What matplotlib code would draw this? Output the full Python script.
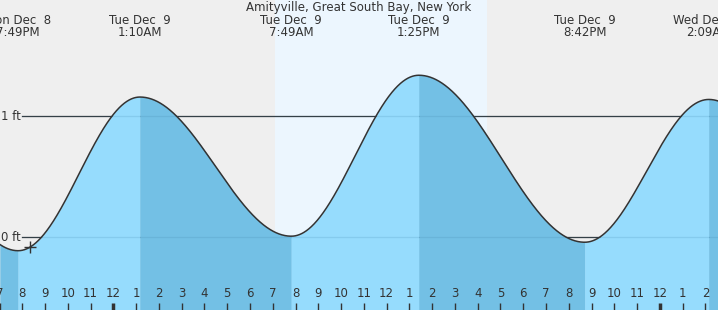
import numpy as np
import matplotlib
matplotlib.use('Agg')
import matplotlib.pyplot as plt

# tide events: hours from Dec 8 00:00, height in ft
event_hours = [19 + 49/60, 25 + 10/60, 31 + 49/60, 37 + 25/60, 44 + 42/60, 50 + 9/60]
event_heights = [-0.11, 1.16, 0.01, 1.34, -0.04, 1.14]
event_days = ['Mon Dec  8', 'Tue Dec  9', 'Tue Dec  9', 'Tue Dec  9', 'Tue Dec  9', 'Wed Dec 10']
event_times = ['7:49PM', '1:10AM', '7:49AM', '1:25PM', '8:42PM', '2:09AM']

sunrise = 31 + 5/60
sunset = 40 + 24/60
now_hour = 20.34

title = 'Amityville, Great South Bay, New York'
hour_ticks = list(range(19, 51))
ft_levels = [0, 1]

x0, x1 = 19.021, 19.021 + 718 / 22.77
y0, y1 = -0.6, -0.6 + 310 / 121.0

BG = '#efefef'
DAY = '#ecf6fe'
LIGHT = '#96dcfd'
DARK = '#73c0e5'
TXT = '#333333'
FS = 8.5


def tide_curve(t):
    # cosine shape between successive extremes
    h = np.zeros_like(t)
    ext_t = [event_hours[0] - 6.2] + event_hours + [event_hours[-1] + 6.2]
    ext_h = [event_heights[1]] + event_heights + [event_heights[-2]]
    for i in range(len(ext_t) - 1):
        a, b = ext_t[i], ext_t[i + 1]
        m = (t >= a) & (t <= b)
        f = (1 - np.cos(np.pi * (t[m] - a) / (b - a))) / 2
        h[m] = ext_h[i] + (ext_h[i + 1] - ext_h[i]) * f
    return h


fig = plt.figure(figsize=(7.18, 3.10), dpi=100)
fig.patch.set_facecolor(BG)
ax = fig.add_axes([0, 0, 1, 1])
ax.set_xlim(x0, x1)
ax.set_ylim(y0, y1)
ax.axis('off')

ax.axvspan(sunrise, sunset, color=DAY, lw=0, zorder=0)

# level lines
for lv in ft_levels:
    ax.plot([20, x1], [lv, lv], color=TXT, lw=0.9, zorder=1)
    ax.text(20 - 0.05, lv, '%d ft' % lv, ha='right', va='center', fontsize=FS, color=TXT, zorder=5)

# fill: light when rising, dark when falling
is_high = [v > 0.5 for v in event_heights]
bounds = [x0] + event_hours + [x1]
for i in range(len(bounds) - 1):
    a, b = bounds[i], bounds[i + 1]
    ts = np.linspace(a, b, 400)
    if i < len(event_hours):
        rising = is_high[i]
    else:
        rising = not is_high[-1]
    c = LIGHT if rising else DARK
    ax.fill_between(ts, tide_curve(ts), y0, facecolor=c, edgecolor=c, lw=0.3, zorder=2)

# faint level lines over fill
for lv in ft_levels:
    ax.plot([20, x1], [lv, lv], color='#3c7ea6', lw=0.9, alpha=0.18, zorder=3)

t = np.linspace(x0, x1, 2000)
ax.plot(t, tide_curve(t), color=TXT, lw=1.1, zorder=4)

ax.plot([now_hour], tide_curve(np.array([now_hour])), marker='+', ms=8, mew=1.0,
        color=TXT, zorder=5)

# hour ticks
for hr in hour_ticks:
    lab = hr % 12
    if lab == 0:
        lab = 12
    ax.text(hr, -0.465, str(lab), ha='center', va='center', fontsize=FS, color=TXT, zorder=5)
    lw = 2.5 if hr % 24 == 0 else 1.0
    ax.plot([hr, hr], [-0.54, y0], color=TXT, lw=lw, zorder=5, solid_capstyle='butt')

# event labels
for th, d, tm in zip(event_hours, event_days, event_times):
    ax.text(th, y1 - 20.5 / 121.0, d, ha='center', va='center', fontsize=FS, color=TXT, zorder=5)
    ax.text(th, y1 - 32.5 / 121.0, tm, ha='center', va='center', fontsize=FS, color=TXT, zorder=5)

ax.text((x0 + x1) / 2, y1 - 7.5 / 121.0, title, ha='center', va='center', fontsize=FS,
        color=TXT, zorder=5)

fig.savefig('out.png', dpi=100, facecolor=BG)
